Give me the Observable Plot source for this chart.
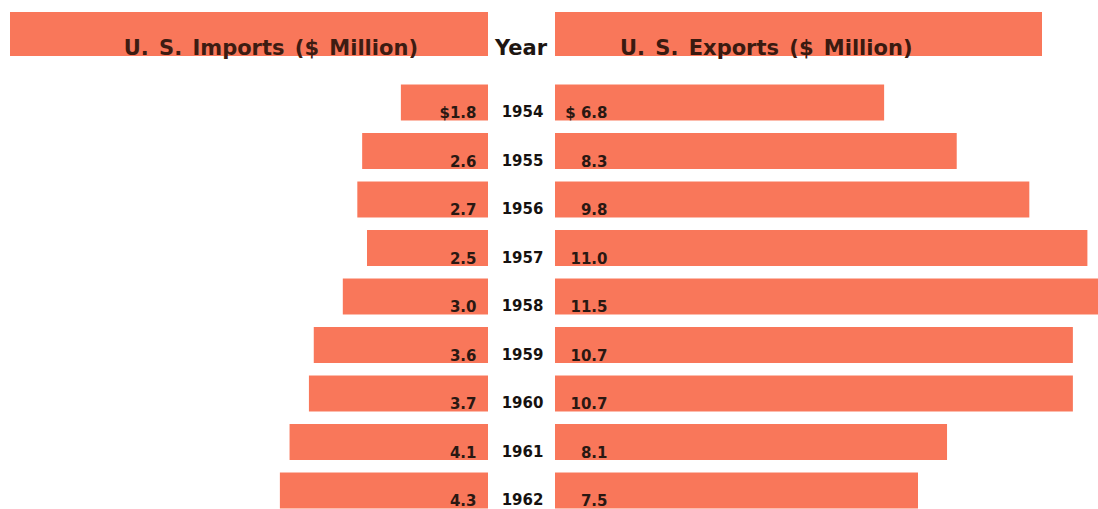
<!DOCTYPE html>
<html>
<head>
<meta charset="utf-8">
<script src="https://cdn.jsdelivr.net/npm/d3@7"></script>
<script src="https://cdn.jsdelivr.net/npm/@observablehq/plot@0.6"></script>
<style>
  html, body { margin: 0; padding: 0; background: #ffffff; overflow: hidden; }
  #wrap { position: relative; width: 1098px; height: 509px; font-family: "DejaVu Sans", sans-serif; }
  #head { position: relative; width: 1098px; height: 70px; }
  .hbar { position: absolute; top: 12px; height: 44px; background: #f9775a; }
  .htxt { position: absolute; top: 38px; font-size: 21px; font-weight: bold; line-height: 21px; white-space: pre; word-spacing: 3px; }
  #chart svg { display: block; }
</style>
</head>
<body>
<div id="wrap">
  <div id="head">
    <div class="hbar" style="left:10px;width:478px;"></div>
    <div class="hbar" style="left:555px;width:487px;"></div>
    <div class="htxt" id="impTitle" style="right:680px;color:#3d1c12;"></div>
    <div class="htxt" id="yearTitle" style="left:495px;color:#1e1612;word-spacing:0;"></div>
    <div class="htxt" id="expTitle" style="left:620px;color:#3a1a10;"></div>
  </div>
  <div id="chart"></div>
</div>
<script>
// ---- data ----
const years   = [1954, 1955, 1956, 1957, 1958, 1959, 1960, 1961, 1962];
const imports = [1.8, 2.6, 2.7, 2.5, 3.0, 3.6, 3.7, 4.1, 4.3];
const exports = [6.8, 8.3, 9.8, 11.0, 11.5, 10.7, 10.7, 8.1, 7.5];
const titles = {imports: "U. S. Imports ($ Million)", year: "Year", exports: "U. S. Exports ($ Million)"};

document.getElementById("impTitle").textContent = titles.imports;
document.getElementById("yearTitle").textContent = titles.year;
document.getElementById("expTitle").textContent = titles.exports;

const table = years.map((y, i) => ({
  year: String(y),
  imports: imports[i],
  exports: exports[i],
  impLabel: (i === 0 ? "$" : "") + imports[i].toFixed(1),
  expLabel: (i === 0 ? "$ " : "") + exports[i].toFixed(1)
}));

const barColor = "#f9775a";
const ink = "#2a1812";
const pxPerUnit = 48.4;
const W = 1098, H = 439;
const center = 521.5, gap = 33.5;

const chart = Plot.plot({
  width: W,
  height: H,
  marginLeft: 0, marginRight: 0, marginTop: 0, marginBottom: 0,
  style: {fontFamily: "DejaVu Sans, sans-serif", fontSize: "15px", background: "white"},
  x: {domain: [-center / pxPerUnit, (W - center) / pxPerUnit], range: [0, W], axis: null},
  y: {type: "band", domain: table.map(d => d.year), range: [8.25, 444.75], paddingInner: 0.258, paddingOuter: 0.129, round: false, axis: null},
  marks: [
    Plot.barX(table, {x1: () => 0, x2: d => -d.imports, y: "year", fill: barColor, dx: -gap}),
    Plot.barX(table, {x1: () => 0, x2: d => d.exports, y: "year", fill: barColor, dx: gap}),
    Plot.text(table, {x: () => 0, y: "year", text: "impLabel", textAnchor: "end", lineAnchor: "bottom", dx: -45.5, dy: 15, fill: ink, fontWeight: "bold"}),
    Plot.text(table, {x: () => 0, y: "year", text: "year", textAnchor: "middle", lineAnchor: "bottom", dx: 0.5, dy: 14, fill: "#161210", fontWeight: "bold"}),
    Plot.text(table, {x: () => 0, y: "year", text: "expLabel", textAnchor: "end", lineAnchor: "bottom", dx: 85.5, dy: 15, fill: ink, fontWeight: "bold"})
  ]
});
document.getElementById("chart").appendChild(chart);
</script>
</body>
</html>
